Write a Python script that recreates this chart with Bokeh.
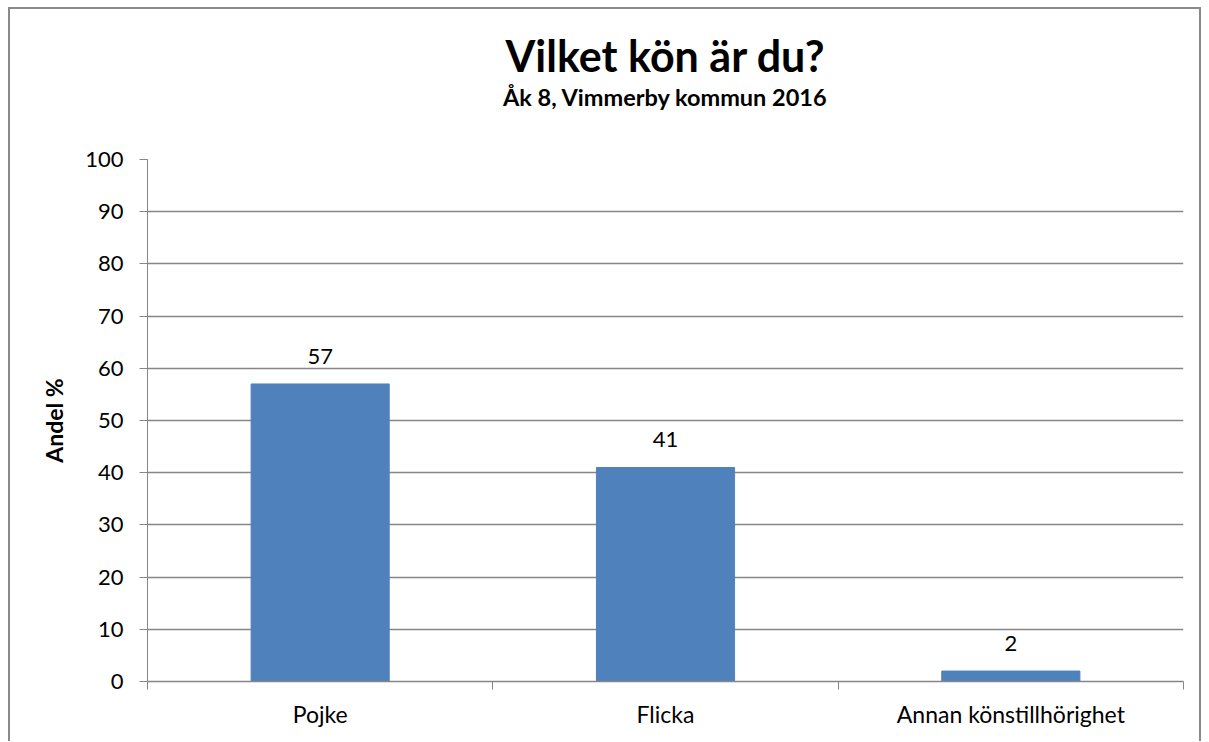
from bokeh.plotting import figure
from bokeh.models import (Range1d, LinearAxis, FixedTicker, Title,
                          ColumnDataSource)
from bokeh.core.properties import value
from bokeh.embed import file_html
from bokeh.resources import INLINE

categories = ["Pojke", "Flicka", "Annan könstillhörighet"]
values = [57, 41, 2]
labels = ["57", "41", "2"]
y_ticks = [0, 10, 20, 30, 40, 50, 60, 70, 80, 90, 100]
title_text = "Vilket kön är du?"
subtitle_text = "Åk 8, Vimmerby kommun 2016"
y_label = "Andel %"

FONT = "Lato"
GRID = "#868686"

n = len(categories)
centers = [i + 0.5 for i in range(n)]
src = ColumnDataSource(dict(x=centers, val=values, lab=labels))

p = figure(width=1193, height=734, x_range=Range1d(0, n),
           y_range=Range1d(0, 100), output_backend="svg", toolbar_location=None,
           title=None, min_border_left=137, min_border_right=20,
           min_border_top=150, min_border_bottom=62, x_axis_location=None)
p.outline_line_color = None
p.background_fill_color = "white"
p.border_fill_color = "white"
p.styles = {"border-left": "2px solid #8a8a8a", "border-top": "2px solid #8a8a8a",
            "border-right": "2px solid #8a8a8a", "box-sizing": "border-box",
            "margin-left": "8px", "margin-top": "7px"}

p.vbar(x="x", top="val", width=0.4, source=src, fill_color="#4f81bd",
       line_color="#4f81bd")
p.text(x="x", y="val", text="lab", source=src, text_align="center",
       text_baseline="bottom", y_offset=-20, text_font=value(FONT),
       text_font_size="22px", text_color="black")

# y axis
ya = p.yaxis[0]
ya.ticker = FixedTicker(ticks=y_ticks)
ya.axis_line_color = GRID
ya.major_tick_line_color = GRID
ya.major_tick_in = 0
ya.major_tick_out = 8
ya.minor_tick_line_color = None
ya.major_label_text_font = FONT
ya.major_label_text_font_size = "22px"
ya.major_label_text_color = "black"
ya.major_label_standoff = 16
ya.axis_label = y_label
ya.axis_label_text_font = FONT
ya.axis_label_text_font_size = "23px"
ya.axis_label_text_font_style = "bold"
ya.axis_label_text_color = "black"
ya.axis_label_standoff = 14

p.ygrid.ticker = FixedTicker(ticks=y_ticks)
p.ygrid.grid_line_color = GRID
p.ygrid.grid_line_width = 1.3
p.xgrid.grid_line_color = None

# x axes: one for boundary ticks, one for category labels
tick_axis = LinearAxis(ticker=FixedTicker(ticks=list(range(n + 1))))
tick_axis.axis_line_color = GRID
tick_axis.axis_line_width = 1.3
tick_axis.major_tick_line_color = GRID
tick_axis.major_tick_in = 0
tick_axis.major_tick_out = 8
tick_axis.minor_tick_line_color = None
tick_axis.major_label_text_font_size = "0px"
tick_axis.major_label_text_color = None
tick_axis.major_label_standoff = 0

cat_axis = LinearAxis(ticker=FixedTicker(ticks=centers),
                      major_label_overrides={c: lab for c, lab in zip(centers, categories)})
cat_axis.axis_line_color = None
cat_axis.major_tick_line_color = None
cat_axis.minor_tick_line_color = None
cat_axis.major_label_text_font = FONT
cat_axis.major_label_text_font_size = "23px"
cat_axis.major_label_text_color = "black"
cat_axis.major_label_standoff = 4

p.add_layout(tick_axis, "below")
p.add_layout(cat_axis, "below")

# blank spacer title (closest to the plot) pushes the titles upward
spacer = Title(text=" ", text_font_size="42px", standoff=0)
sub = Title(text=subtitle_text, align="center", text_font=FONT,
            text_font_size="23.5px", text_font_style="bold", text_color="black",
            standoff=0)
main = Title(text=title_text, align="center", text_font=FONT,
             text_font_size="43px", text_font_style="bold", text_color="black",
             standoff=0)
p.add_layout(spacer, "above")
p.add_layout(sub, "above")
p.add_layout(main, "above")

open("out.html", "w").write(file_html(p, INLINE))
